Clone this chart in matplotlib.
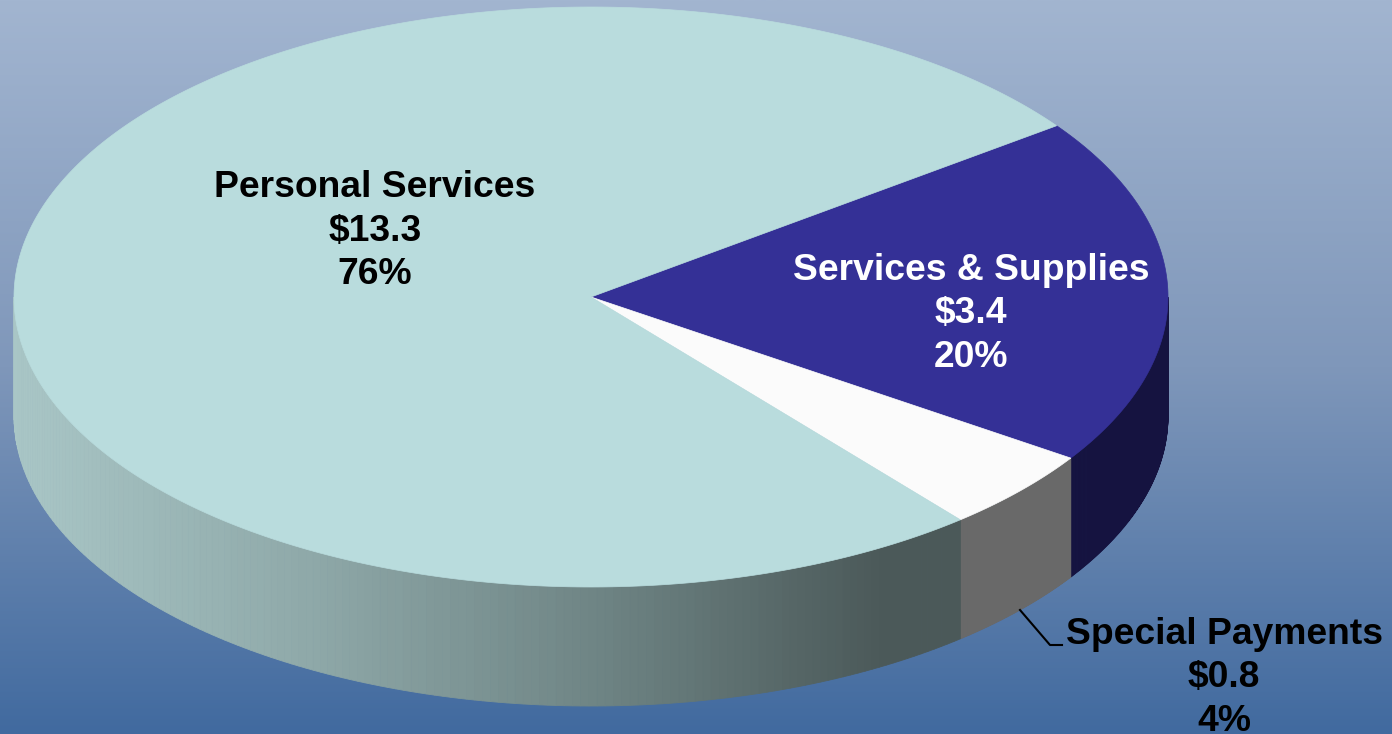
"""
Budget pie chart, drawn as a flattened 3D pie on a blue gradient.
"""

import numpy as np
import matplotlib
matplotlib.use("Agg")
import matplotlib.pyplot as plt
from matplotlib.colors import LinearSegmentedColormap
from matplotlib.patches import Polygon

# -------------------------------------------------
# Data
# -------------------------------------------------

categories = ["Services & Supplies", "Special Payments", "Personal Services"]
amounts = [3.4, 0.8, 13.3]
amount_labels = ["$3.4", "$0.8", "$13.3"]
percent_labels = ["20%", "4%", "76%"]

top_colors = ["#343096", "#FBFBFB", "#B9DCDD"]

# -------------------------------------------------
# Layout (pixels)
# -------------------------------------------------

W, H = 1392, 734
CX, CY = 591, 297
RX, RY = 577, 290
DEPTH = 119
START_ANGLE = 36.2


def rim(a0, a1, n=200):
    t = np.radians(np.linspace(a0, a1, n))
    return CX + RX * np.cos(t), CY - RY * np.sin(t)


def draw_side(ax, a0, a1, color_fn):
    # only the front half of the rim is visible
    lo, hi = max(a0, -180), min(a1, 0)
    if lo >= hi:
        return
    ts = np.linspace(lo, hi, 160)
    xs, ys = rim(lo, hi, 160)
    for i in range(len(ts) - 1):
        pts = [(xs[i], ys[i]), (xs[i + 1], ys[i + 1]),
               (xs[i + 1], ys[i + 1] + DEPTH), (xs[i], ys[i] + DEPTH)]
        ax.add_patch(Polygon(pts, closed=True, facecolor=color_fn(xs[i]),
                             edgecolor=color_fn(xs[i]), linewidth=0.6, zorder=2))


def main():
    fig = plt.figure(figsize=(W / 100, H / 100), dpi=100)
    ax = fig.add_axes([0, 0, 1, 1])
    ax.set_xlim(0, W)
    ax.set_ylim(H, 0)
    ax.axis("off")

    # background gradient
    bg = LinearSegmentedColormap.from_list("bg", ["#A2B5D0", "#7F97BA", "#416A9F"])
    grad = np.linspace(0, 1, 256).reshape(-1, 1)
    ax.imshow(grad, cmap=bg, extent=[0, W, H, 0], aspect="auto", zorder=0)

    # wedge angles, going clockwise from the start angle
    sweep = np.array(amounts) / sum(amounts) * 360
    ends = START_ANGLE - np.cumsum(sweep)
    starts = np.concatenate([[START_ANGLE], ends[:-1]])

    shade = LinearSegmentedColormap.from_list("side", ["#A9C6C6", "#8FA9A9", "#6F8585", "#4B5959"])
    side_fns = [
        lambda x: "#151340",
        lambda x: "#696969",
        lambda x: shade(np.clip((x - 14) / (880 - 14), 0, 1)),
    ]

    for s, e, fn in zip(starts, ends, side_fns):
        draw_side(ax, e, s, fn)

    for s, e, color in zip(starts, ends, top_colors):
        xs, ys = rim(s, e, 400)
        pts = np.column_stack([np.r_[CX, xs], np.r_[CY, ys]])
        ax.add_patch(Polygon(pts, closed=True, facecolor=color, edgecolor=color,
                             linewidth=0.5, zorder=3))

    # leader line for the small slice
    ax.plot([1020, 1050, 1062], [610, 645, 645], color="black", lw=1.5, zorder=4)

    font = {"family": "Liberation Sans", "weight": "bold", "fontsize": 26.8,
            "ha": "center", "va": "baseline", "zorder": 5}
    label_pos = [(971, 280), (1224, 644), (375, 197)]
    text_colors = ["white", "black", "black"]
    for name, amt, pct, (x, y), c in zip(categories, amount_labels, percent_labels,
                                         label_pos, text_colors):
        for k, line in enumerate([name, amt, pct]):
            ax.text(x, y + k * 43.5, line, color=c, **font)

    fig.savefig("out.png", dpi=100)


if __name__ == "__main__":
    main()
